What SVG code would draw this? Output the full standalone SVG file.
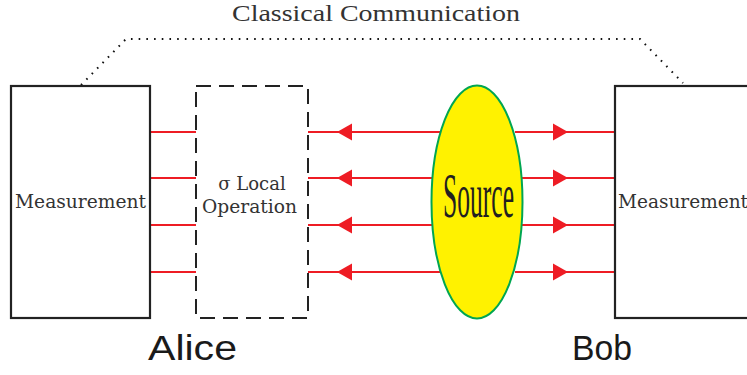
<svg xmlns="http://www.w3.org/2000/svg" width="747" height="375" viewBox="0 0 747 375">
<style>
.box{fill:#fff;stroke:#222;stroke-width:2.2}
.dash{fill:none;stroke:#222;stroke-width:2;stroke-dasharray:15 8}
.wire{stroke:#ee1c24;stroke-width:2;fill:none}
.head{fill:#ee1c24}
.lbl{font-family:"DejaVu Serif",serif;fill:#333}
.big{font-family:"Liberation Sans",Arial,sans-serif;fill:#1a1a1a}
.dot{fill:none;stroke:#111;stroke-width:2;stroke-dasharray:1.6 6.1;stroke-linecap:butt}
</style>
<defs>
<polygon id="al" points="0,0 15,-8.5 15,8.5"/>
<polygon id="ar" points="0,0 -15,-8.5 -15,8.5"/>
</defs>
<text x="376" y="21" text-anchor="middle" font-family="Liberation Serif, serif" font-size="23" fill="#333" textLength="288" lengthAdjust="spacingAndGlyphs">Classical Communication</text>
<g id="connectors">
<path class="dot" d="M81,85 L126,39 L640,39 L683,83"/>
<g class="wire">
<line x1="150" y1="132" x2="196" y2="132"/>
<line x1="150" y1="178" x2="196" y2="178"/>
<line x1="150" y1="225" x2="196" y2="225"/>
<line x1="150" y1="272" x2="196" y2="272"/>
<line x1="308" y1="132" x2="440" y2="132"/>
<line x1="308" y1="178" x2="440" y2="178"/>
<line x1="308" y1="225" x2="440" y2="225"/>
<line x1="308" y1="272" x2="440" y2="272"/>
<line x1="515" y1="132" x2="615" y2="132"/>
<line x1="515" y1="178" x2="615" y2="178"/>
<line x1="515" y1="225" x2="615" y2="225"/>
<line x1="515" y1="272" x2="615" y2="272"/>
</g>
<g class="head">
<use href="#al" x="337" y="132"/>
<use href="#al" x="337" y="178"/>
<use href="#al" x="337" y="225"/>
<use href="#al" x="337" y="272"/>
<use href="#ar" x="568" y="132"/>
<use href="#ar" x="568" y="178"/>
<use href="#ar" x="568" y="225"/>
<use href="#ar" x="568" y="272"/>
</g>
</g>
<g id="alice-measurement">
<rect class="box" x="11" y="86" width="139" height="232"/>
<text class="lbl" x="80.5" y="208" text-anchor="middle" font-size="18" textLength="131" lengthAdjust="spacingAndGlyphs">Measurement</text>
</g>
<g id="local-operation">
<rect class="dash" x="196" y="86" width="112" height="232"/>
<text class="lbl" x="252" y="190" text-anchor="middle" font-size="18">σ Local</text>
<text class="lbl" x="249.5" y="213" text-anchor="middle" font-size="18" textLength="95" lengthAdjust="spacingAndGlyphs">Operation</text>
</g>
<g id="source">
<ellipse cx="477" cy="202" rx="45.5" ry="116.5" fill="#fff200" stroke="#00a651" stroke-width="2"/>
<text x="478.5" y="217" text-anchor="middle" font-family="Liberation Serif, serif" font-size="64" fill="#231f20" textLength="71" lengthAdjust="spacingAndGlyphs">Source</text>
</g>
<g id="bob-measurement">
<rect class="box" x="615" y="86" width="140" height="232"/>
<text class="lbl" x="618" y="208" font-size="18" textLength="130" lengthAdjust="spacingAndGlyphs">Measurement</text>
</g>
<text class="big" x="148" y="360" font-size="35" textLength="89" lengthAdjust="spacingAndGlyphs">Alice</text>
<text class="big" x="572" y="360" font-size="35" textLength="60" lengthAdjust="spacingAndGlyphs">Bob</text>
</svg>
